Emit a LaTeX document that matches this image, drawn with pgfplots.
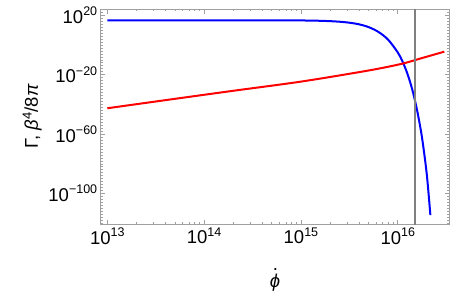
\documentclass[border=0pt]{standalone}
\usepackage{fontspec}
\setmainfont{Liberation Sans}
\usepackage{pgfplots}
\pgfplotsset{compat=1.18}
\newcommand\tp[1]{10\raisebox{0.42em}{\fontsize{12.5bp}{13bp}\selectfont #1}}
\newcommand\phidot{\setbox0\hbox{\itshape ϕ}\hbox to \wd0{\hfil\kern0.04em\raisebox{0.92em}{.}\hfil}\kern-\wd0\box0}
\definecolor{framegray}{RGB}{160,160,160}
\definecolor{vgray}{RGB}{128,128,128}
\begin{document}
\begin{tikzpicture}
\begin{axis}[
  scale only axis, width=348.6bp, height=215bp,
  xmode=log, ymode=log,
  xmin=8.55e12, xmax=3.41e16,
  ymin=3.16e-121, ymax=1.6e24,
  axis line style={draw=framegray, line width=0.7bp},
  every tick/.style={draw=framegray, line width=0.6bp},
  tick align=inside,
  major tick length=4.5bp, minor tick length=2.2bp,
  xtick={1e13,1e14,1e15,1e16},
  xticklabels={\tp{13},\tp{14},\tp{15},\tp{16}},
  ytick={1e-100,1e-60,1e-20,1e20},
  yticklabels={\tp{−100},\tp{−60},\tp{−20},\tp{20}},
  minor ytick={1e-120,1e-118,1e-116,1e-114,1e-112,1e-110,1e-108,1e-106,1e-104,1e-102,1e-100,1e-98,1e-96,1e-94,1e-92,1e-90,1e-88,1e-86,1e-84,1e-82,1e-80,1e-78,1e-76,1e-74,1e-72,1e-70,1e-68,1e-66,1e-64,1e-62,1e-60,1e-58,1e-56,1e-54,1e-52,1e-50,1e-48,1e-46,1e-44,1e-42,1e-40,1e-38,1e-36,1e-34,1e-32,1e-30,1e-28,1e-26,1e-24,1e-22,1e-20,1e-18,1e-16,1e-14,1e-12,1e-10,1e-8,1e-6,1e-4,1e-2,1e0,1e2,1e4,1e6,1e8,1e10,1e12,1e14,1e16,1e18,1e20,1e22,1e24},
  ticklabel style={font=\fontsize{18.5bp}{20bp}\selectfont, text=black},
  label style={font=\fontsize{18.5bp}{20bp}\selectfont},
  xlabel={\phidot},
  ylabel={Γ, \textit{β}\textsuperscript{4}/8\textit{π}},
  xlabel style={yshift=-17bp},
]
\addplot[blue, line width=2bp, smooth, tension=0.5] coordinates {
(1e13,3.98e16) (1e14,3.98e16) (1e15,3.02e16) (1.585e15,1.82e16)
(1.995e15,1.07e16) (2.512e15,4.37e15) (3.162e15,9.77e14) (3.981e15,7.94e13)
(5.012e15,1e12) (6.310e15,6.3e8) (7.943e15,3.98e3) (1e16,1e-5)
(1.122e16,6.3e-12) (1.259e16,3.98e-20) (1.413e16,1e-30) (1.585e16,1e-44)
(1.778e16,1e-62) (1.995e16,1e-87) (2.173e16,3.16e-115)
};
\addplot[red, line width=2bp, smooth] coordinates {
(1e13,2.5e-43) (4.13e13,1e-37) (2.02e14,1.58e-31) (9.93e14,2.0e-25)
(4.88e15,5.0e-18) (1.08e16,1.58e-13) (1.74e16,1e-9) (3.03e16,3.16e-5)
};
\addplot[vgray, line width=2.6bp] coordinates {(1.51e16,1e-130) (1.51e16,1e30)};
\end{axis}
\path ([xshift=-100.7bp,yshift=-72bp]current axis.south west) rectangle ([xshift=5.7bp,yshift=9bp]current axis.north east);
\end{tikzpicture}
\end{document}
